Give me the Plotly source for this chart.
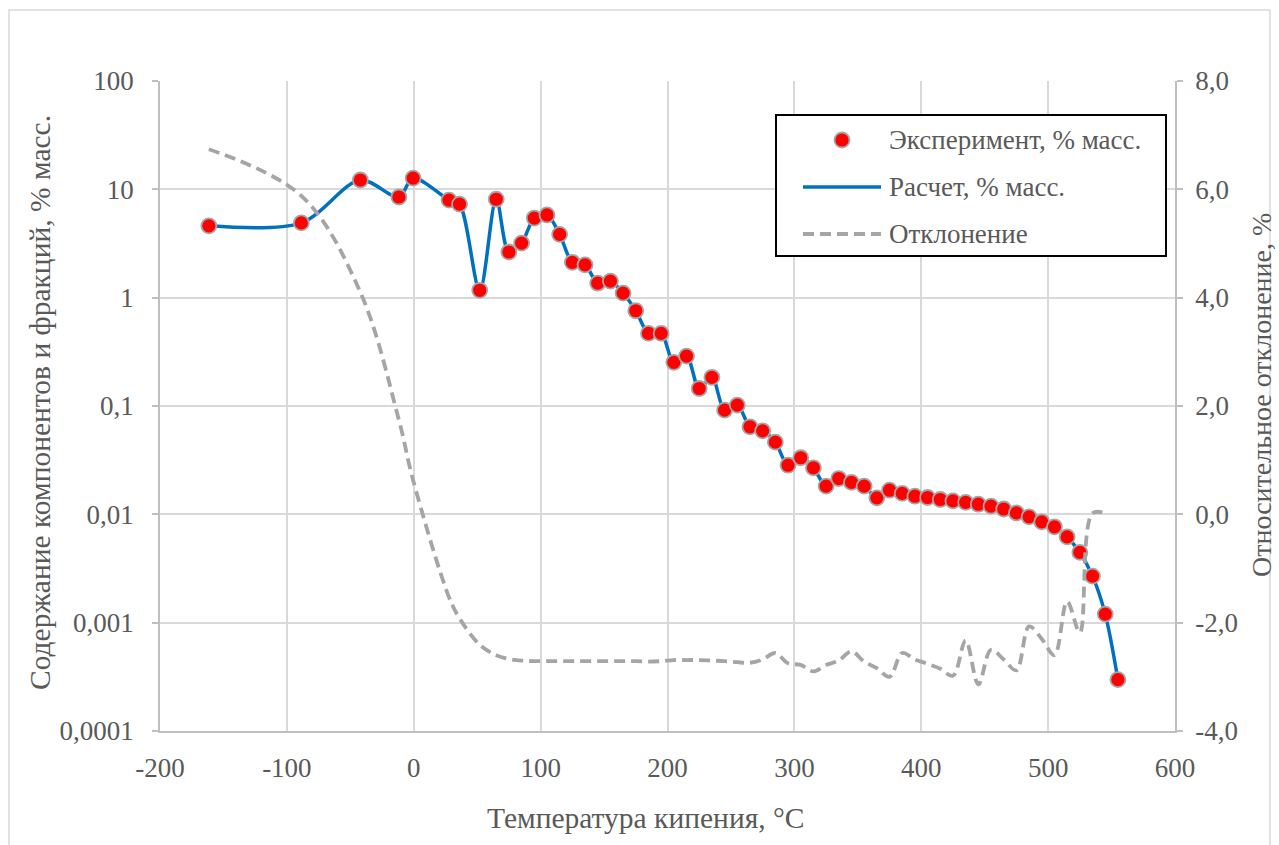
import plotly.graph_objects as go

# ---------------- data ----------------
temps = [-161.5, -88.6, -42.1, -11.7, -0.5, 27.8, 36.1, 52, 65, 75, 85, 95, 105, 115, 125,
         135, 145, 155, 165, 175, 185, 195, 205, 215, 225, 235, 245, 255, 265, 275, 285,
         295, 305, 315, 325, 335, 345, 355, 365, 375, 385, 395, 405, 415, 425, 435, 445,
         455, 465, 475, 485, 495, 505, 515, 525, 535, 545, 555]

exp_vals = [4.6, 4.9, 12.2, 8.5, 12.7, 7.96, 7.3, 1.17, 8.1, 2.64, 3.19, 5.43, 5.8, 3.84, 2.12,
            2.01, 1.36, 1.42, 1.10, 0.757, 0.468, 0.468, 0.253, 0.289, 0.145, 0.184, 0.0916,
            0.102, 0.0643, 0.059, 0.0464, 0.0284, 0.0333, 0.0269, 0.0182, 0.0214, 0.0197,
            0.0182, 0.0142, 0.0167, 0.0156, 0.0147, 0.0143, 0.0137, 0.0133, 0.0129, 0.0124,
            0.0119, 0.0112, 0.0103, 0.00948, 0.00853, 0.00767, 0.00619, 0.00445, 0.00269,
            0.0012, 0.000298]

calc_vals = [4.6, 4.9, 12.2, 8.5, 12.7, 7.96, 7.3, 1.17, 8.1, 2.64, 3.19, 5.43, 5.8, 3.84, 2.12,
             2.01, 1.36, 1.42, 1.10, 0.757, 0.468, 0.468, 0.253, 0.289, 0.145, 0.184, 0.0916,
             0.102, 0.0643, 0.059, 0.0464, 0.0284, 0.0333, 0.0269, 0.0182, 0.0214, 0.0197,
             0.0182, 0.0142, 0.0167, 0.0156, 0.0147, 0.0143, 0.0137, 0.0133, 0.0129, 0.0124,
             0.0119, 0.0112, 0.0103, 0.00948, 0.00853, 0.00767, 0.00619, 0.00445, 0.00269,
             0.0012, 0.000298]

dev_temps = [-161.5, -88.6, -42.1, -11.7, -0.5, 27.8, 36.1, 52, 65, 75, 85, 95, 105, 115, 125,
             135, 145, 155, 165, 175, 185, 195, 205, 215, 225, 235, 245, 255, 265, 275, 285,
             295, 305, 315, 325, 335, 345, 355, 365, 375, 385, 395, 405, 415, 425, 435, 445,
             455, 465, 475, 485, 495, 505, 515, 525, 535, 547]

dev_vals = [6.74, 5.88, 4.1, 1.74, 0.63, -1.53, -1.92, -2.41, -2.60, -2.67, -2.70, -2.71, -2.71,
            -2.71, -2.71, -2.71, -2.71, -2.71, -2.71, -2.71, -2.72, -2.71, -2.69, -2.69, -2.69,
            -2.70, -2.71, -2.73, -2.74, -2.68, -2.56, -2.75, -2.78, -2.90, -2.78, -2.70, -2.53,
            -2.72, -2.84, -3.00, -2.56, -2.68, -2.76, -2.85, -2.98, -2.33, -3.14, -2.50, -2.68,
            -2.88, -2.07, -2.30, -2.60, -1.61, -2.18, 0.02, 0.0]

x_ticks = [-200, -100, 0, 100, 200, 300, 400, 500, 600]
x_ticktext = ["-200", "-100", "0", "100", "200", "300", "400", "500", "600"]
y_ticks = [0.0001, 0.001, 0.01, 0.1, 1, 10, 100]
y_ticktext = ["0,0001", "0,001", "0,01", "0,1", "1", "10", "100"]
y2_ticks = [-4, -2, 0, 2, 4, 6, 8]
y2_ticktext = ["-4,0", "-2,0", "0,0", "2,0", "4,0", "6,0", "8,0"]

name_exp = "Эксперимент, % масс."
name_calc = "Расчет, % масс."
name_dev = "Отклонение"
x_title = "Температура кипения, °C"
y_title = "Содержание компонентов и фракций, % масс."
y2_title = "Относительное отклонение, %"

# ---------------- style ----------------
FONT = "Liberation Serif"
TXT = "#595959"
GRID = "#D9D9D9"
BLUE = "#0070C0"
GRAY = "#A5A5A5"
W, H = 1279, 845
L, R, T, B = 160, 1175, 81, 731


def px(x):
    return (x - L) / (R - L)


def py(y):
    return (B - y) / (B - T)


fig = go.Figure()
fig.add_trace(go.Scatter(x=temps, y=calc_vals, mode="lines", name=name_calc,
                         line=dict(color=BLUE, width=3.5, shape="spline", smoothing=0.9),
                         showlegend=False))
fig.add_trace(go.Scatter(x=temps, y=exp_vals, mode="markers", name=name_exp,
                         marker=dict(size=15, color="#FF0000", line=dict(color="#A6A6A6", width=1.8)),
                         showlegend=False))
fig.add_trace(go.Scatter(x=dev_temps, y=dev_vals, mode="lines", name=name_dev, yaxis="y2",
                         line=dict(color=GRAY, width=3.8, dash="11px,6px", shape="spline", smoothing=1),
                         showlegend=False))

tickfont = dict(family=FONT, size=27, color=TXT)

fig.update_layout(
    width=W, height=H, autosize=False,
    margin=dict(l=L, r=W - R, t=T, b=H - B, pad=0),
    paper_bgcolor="white", plot_bgcolor="white",
    font=dict(family=FONT, color=TXT),
    showlegend=False,
    xaxis=dict(range=[-200, 600], tickmode="array", tickvals=x_ticks, ticktext=x_ticktext,
               showgrid=True, gridcolor=GRID, gridwidth=1.6, zeroline=False,
               showline=True, linecolor="#BFBFBF", linewidth=1.5, ticks="",
               tickfont=tickfont, ticklabelstandoff=12),
    yaxis=dict(type="log", range=[-4, 2], tickmode="array", tickvals=y_ticks, ticktext=y_ticktext,
               showgrid=True, gridcolor=GRID, gridwidth=1.6, zeroline=False,
               showline=True, linecolor="#BFBFBF", linewidth=1.5,
               ticks="outside", ticklen=6, tickcolor="#BFBFBF", tickwidth=1.5,
               tickfont=tickfont, ticklabelstandoff=13),
    yaxis2=dict(overlaying="y", side="right", range=[-4, 8], tickmode="array",
                tickvals=y2_ticks, ticktext=y2_ticktext,
                showgrid=False, zeroline=False,
                showline=True, linecolor="#BFBFBF", linewidth=1.5,
                ticks="outside", ticklen=6, tickcolor="#BFBFBF", tickwidth=1.5,
                tickfont=tickfont, ticklabelstandoff=7),
)

# chart area border
fig.add_shape(type="rect", xref="paper", yref="paper",
              x0=px(9), x1=px(1270), y0=py(850), y1=py(10),
              line=dict(color=GRID, width=1.5), fillcolor="rgba(0,0,0,0)", layer="below")

# axis titles
fig.add_annotation(xref="paper", yref="paper", x=px(645), y=py(818), text=x_title,
                   showarrow=False, font=dict(family=FONT, size=29.5, color=TXT),
                   xanchor="center", yanchor="middle")
fig.add_annotation(xref="paper", yref="paper", x=px(40), y=py(403), text=y_title,
                   showarrow=False, textangle=-90, font=dict(family=FONT, size=29.5, color=TXT),
                   xanchor="center", yanchor="middle")
fig.add_annotation(xref="paper", yref="paper", x=px(1261), y=py(395), text=y2_title,
                   showarrow=False, textangle=-90, font=dict(family=FONT, size=28, color=TXT),
                   xanchor="center", yanchor="middle", borderpad=0)

# custom legend
fig.add_shape(type="rect", xref="paper", yref="paper",
              x0=px(776), x1=px(1166), y0=py(256), y1=py(115),
              line=dict(color="black", width=2), fillcolor="white")
fig.add_shape(type="circle", xref="paper", yref="paper",
              x0=px(842 - 7.5), x1=px(842 + 7.5), y0=py(140 + 7.5), y1=py(140 - 7.5),
              line=dict(color="#A6A6A6", width=1.8), fillcolor="#FF0000")
fig.add_shape(type="line", xref="paper", yref="paper",
              x0=px(803), x1=px(881), y0=py(187), y1=py(187),
              line=dict(color=BLUE, width=3.5))
fig.add_shape(type="line", xref="paper", yref="paper",
              x0=px(803), x1=px(881), y0=py(234), y1=py(234),
              line=dict(color=GRAY, width=3.8, dash="11px,6px"))
for name, yy in [(name_exp, 140), (name_calc, 187), (name_dev, 234)]:
    fig.add_annotation(xref="paper", yref="paper", x=px(887), y=py(yy), text=name,
                       showarrow=False, font=dict(family=FONT, size=27, color=TXT),
                       xanchor="left", yanchor="middle")

fig.write_html("out.html")
